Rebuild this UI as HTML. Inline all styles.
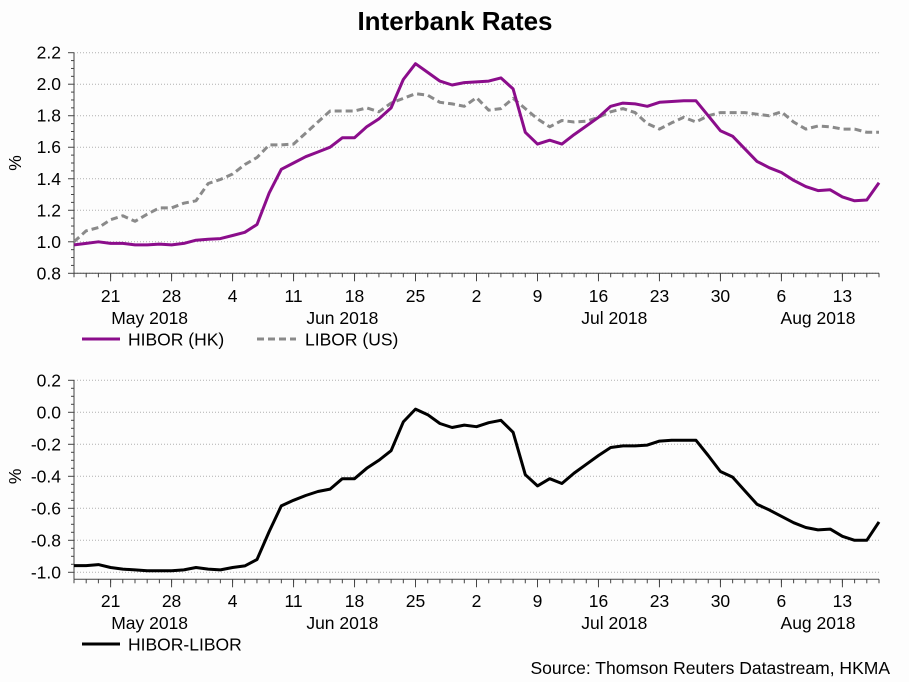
<!DOCTYPE html>
<html><head><meta charset="utf-8"><style>
body{margin:0;background:#fdfdfd;}
svg{display:block;font-family:"Liberation Sans",sans-serif;}
</style></head><body>
<svg id="c" width="909" height="682">
<rect width="909" height="682" fill="#fdfdfd"/>
<text x="455" y="30" text-anchor="middle" font-size="26" font-weight="bold" fill="#000">Interbank Rates</text>
<g id="top"></g>
<g id="bot"></g>
<g>
<line x1="82" y1="339" x2="120" y2="339" stroke="#8b0d8b" stroke-width="3"/>
<text x="128" y="345.5" font-size="17.5">HIBOR (HK)</text>
<line x1="257" y1="339" x2="296" y2="339" stroke="#8a8a8a" stroke-width="3" stroke-dasharray="7,4"/>
<text x="305" y="345.5" font-size="17.5">LIBOR (US)</text>
</g>
<g>
<line x1="82" y1="644" x2="120" y2="644" stroke="#000" stroke-width="3"/>
<text x="128" y="650.5" font-size="17.5">HIBOR-LIBOR</text>
</g>
<text x="890" y="674" text-anchor="end" font-size="17.5">Source: Thomson Reuters Datastream, HKMA</text>
</svg>
<script>
const hibor=[0.98,0.99,1.00,0.99,0.99,0.98,0.98,0.985,0.98,0.99,1.01,1.016,1.02,1.04,1.06,1.11,1.31,1.46,1.50,1.54,1.57,1.60,1.66,1.66,1.73,1.78,1.85,2.03,2.13,2.075,2.02,1.995,2.01,2.015,2.02,2.04,1.97,1.695,1.62,1.645,1.62,1.68,1.735,1.79,1.86,1.88,1.875,1.86,1.885,1.89,1.895,1.895,1.80,1.705,1.67,1.59,1.51,1.47,1.44,1.39,1.35,1.325,1.33,1.285,1.26,1.265,1.375];
const libor=[1.00,1.07,1.09,1.14,1.165,1.13,1.175,1.215,1.215,1.245,1.26,1.37,1.395,1.43,1.49,1.535,1.615,1.615,1.62,1.69,1.76,1.83,1.83,1.83,1.85,1.825,1.88,1.91,1.94,1.93,1.885,1.875,1.86,1.915,1.835,1.845,1.91,1.845,1.78,1.73,1.77,1.76,1.765,1.79,1.825,1.845,1.82,1.75,1.715,1.755,1.79,1.76,1.80,1.82,1.82,1.82,1.81,1.80,1.825,1.76,1.715,1.735,1.73,1.715,1.715,1.695,1.695];
const diff=[-0.958,-0.958,-0.952,-0.97,-0.98,-0.985,-0.99,-0.99,-0.99,-0.985,-0.97,-0.98,-0.985,-0.97,-0.96,-0.92,-0.745,-0.585,-0.55,-0.52,-0.495,-0.48,-0.415,-0.415,-0.35,-0.30,-0.24,-0.06,0.02,-0.015,-0.07,-0.095,-0.08,-0.09,-0.065,-0.05,-0.125,-0.39,-0.46,-0.415,-0.445,-0.38,-0.325,-0.27,-0.22,-0.21,-0.21,-0.205,-0.18,-0.175,-0.175,-0.175,-0.27,-0.37,-0.405,-0.49,-0.575,-0.61,-0.65,-0.69,-0.72,-0.735,-0.73,-0.775,-0.80,-0.80,-0.685];
const dayTicks=[3,8,13,18,23,28,33,38,43,48,53,58,63];
const dayLabels=["21","28","4","11","18","25","2","9","16","23","30","6","13"];
const monthPos=[6.2,22,44.3,61];
const monthLabels=["May 2018","Jun 2018","Jul 2018","Aug 2018"];
const topTicks=[0.8,1.0,1.2,1.4,1.6,1.8,2.0,2.2];
const botTicks=[-1.0,-0.8,-0.6,-0.4,-0.2,0.0,0.2];

const NS="http://www.w3.org/2000/svg";
const X0=74,X1=879,N=hibor.length;
const xs=i=>X0+i*(X1-X0)/(N-1);
function mk(p,t,a){const e=document.createElementNS(NS,t);for(const k in a)e.setAttribute(k,a[k]);p.appendChild(e);return e;}
function panel(g,yTop,yBot,ticks,pre,axOff,lblY){
  const lo=ticks[0],hi=ticks[ticks.length-1];
  const ys=v=>yTop+(hi-v)/(hi-lo)*(yBot-yTop);
  const axB=yBot+axOff;
  ticks.forEach((t,k)=>{
    const y=ys(t);
    const gl=mk(g,'line',{x1:X0,x2:X1,y1:y,y2:y,stroke:'#b0b0b0','stroke-dasharray':'1,2'});
    
    
    const tk=mk(g,'line',{x1:X0-6,x2:X0,y1:y,y2:y,stroke:'#444'});
    
    
    if(k<ticks.length-1){for(let m=1;m<4;m++){const ym=y-m*(ys(ticks[k])-ys(ticks[k+1]))/4;
      const mt=mk(g,'line',{x1:X0-3,x2:X0,y1:ym,y2:ym,stroke:'#444'});
      
      }}
    const tl=mk(g,'text',{x:61,y:y+6,'text-anchor':'end','font-size':17.5});
    tl.textContent=t.toFixed(1);
    
    
  });
  const ya=mk(g,'line',{x1:X0,x2:X0,y1:yTop,y2:axB,stroke:'#444'});
  
  
  const xa=mk(g,'line',{x1:X0,x2:X1,y1:axB,y2:axB,stroke:'#444'});
  
  
  for(let i=0;i<N;i++){const mt=mk(g,'line',{x1:xs(i),x2:xs(i),y1:axB,y2:axB+4,stroke:'#444'});
    
    }
  dayTicks.forEach((d,k)=>{
    const t=mk(g,'line',{x1:xs(d),x2:xs(d),y1:axB,y2:axB+8,stroke:'#444'});
    
    
    const l=mk(g,'text',{x:xs(d),y:lblY,'text-anchor':'middle','font-size':17.5});
    l.textContent=dayLabels[k];
    
    
  });
  monthPos.forEach((m,k)=>{
    const l=mk(g,'text',{x:xs(m),y:lblY+22,'text-anchor':'middle','font-size':17.5});
    l.textContent=monthLabels[k];
    
    
  });
  const yt=mk(g,'text',{x:0,y:0,'font-size':17.5,'text-anchor':'middle',transform:`translate(21,${(yTop+yBot)/2}) rotate(-90)`});
  yt.textContent='%';
  
  
  return ys;
}
function line(g,arr,ys,attrs,name){
  const p=mk(g,'polyline',Object.assign({points:arr.map((v,i)=>xs(i).toFixed(1)+','+ys(v).toFixed(1)).join(' '),fill:'none','stroke-linejoin':'round'},attrs));
  
  
}
const gt=document.getElementById('top'),gb=document.getElementById('bot');
const yt=panel(gt,52.7,273.3,topTicks,'top-',0,302);
line(gt,libor,yt,{stroke:'#8a8a8a','stroke-width':3,'stroke-dasharray':'7,4'},'libor-line');
line(gt,hibor,yt,{stroke:'#8b0d8b','stroke-width':3},'hibor-line');
const yb=panel(gb,380.3,572.3,botTicks,'bottom-',7,607);
line(gb,diff,yb,{stroke:'#000','stroke-width':3},'hibor-libor-line');
</script>
</body></html>
